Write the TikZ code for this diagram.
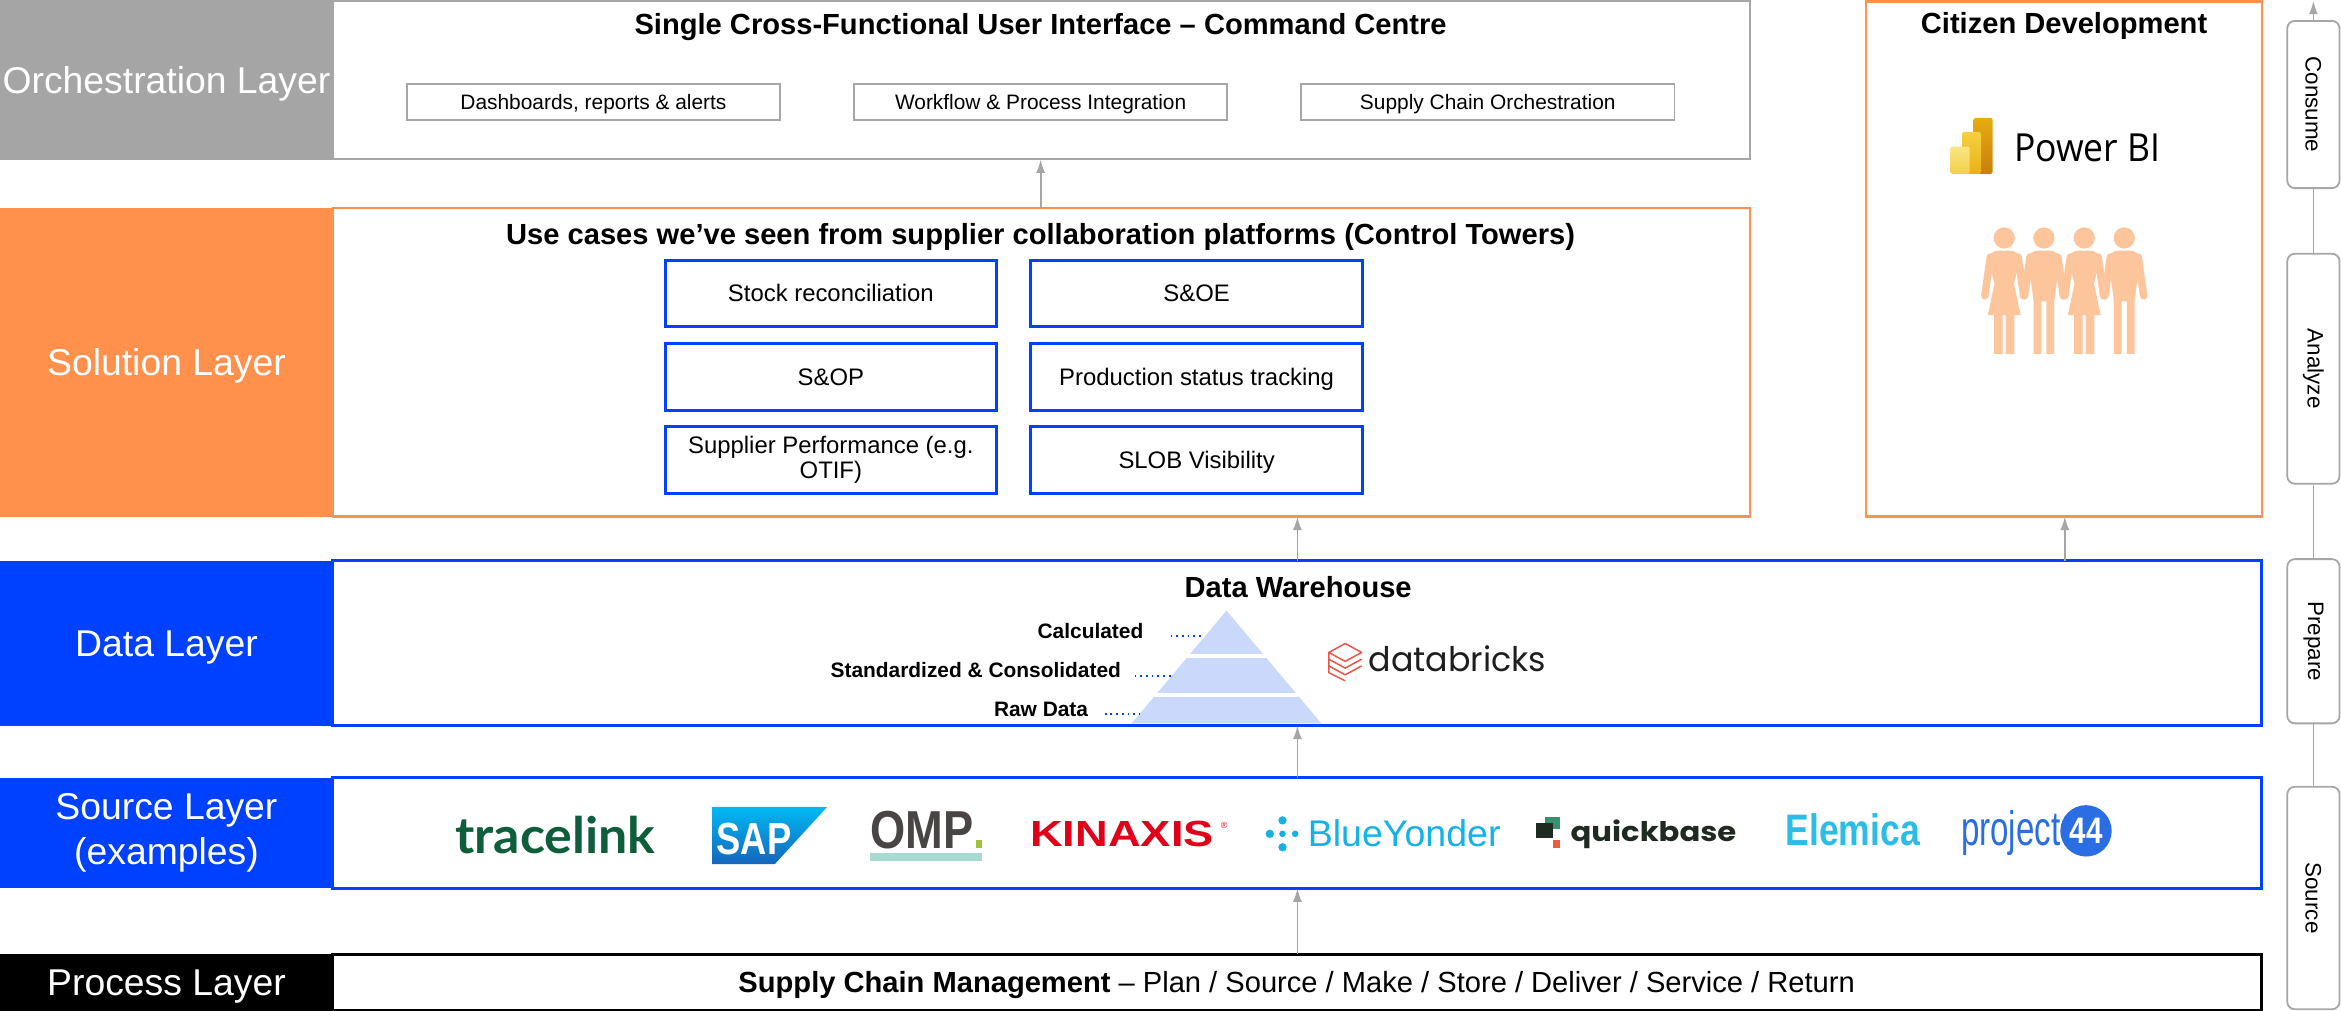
\documentclass[tikz,border=0pt]{standalone}
\usepackage{fontspec}
\usepackage{graphicx}
\setmainfont{Liberation Sans}
\newfontfamily\latofont{Lato}
\newfontfamily\poppinsfont{Poppins}
\newfontfamily\opensansfont{Open Sans}
\usetikzlibrary{arrows.meta,calc}

\newcommand\fsz[2]{\fontsize{#1}{#2}\selectfont}

% layer colours
\definecolor{orchgrey}{HTML}{A5A5A5}
\definecolor{solorange}{HTML}{FF914D}
\definecolor{datablue}{HTML}{0040FF}
\definecolor{edgegrey}{HTML}{A6A6A6}
\definecolor{pyrblue}{HTML}{C9D8FB}
\definecolor{peach}{HTML}{FCC59C}
% product marks
\definecolor{pbiRa}{HTML}{E6AD10}\definecolor{pbiRb}{HTML}{C87E0E}
\definecolor{pbiMa}{HTML}{F6D03F}\definecolor{pbiMb}{HTML}{E8B119}
\definecolor{pbiLa}{HTML}{F9E583}\definecolor{pbiLb}{HTML}{F3D04A}
\definecolor{dbred}{HTML}{E8574A}
\definecolor{dbtext}{HTML}{1E1E1E}
\definecolor{tracegreen}{HTML}{0E5E3B}
\definecolor{sapA}{HTML}{00B9F2}
\definecolor{sapB}{HTML}{1565BE}
\definecolor{ompgrey}{HTML}{4A4545}
\definecolor{ompgreen}{HTML}{A3C23B}
\definecolor{ompteal}{HTML}{A9D9D3}
\definecolor{kinred}{HTML}{E1001A}
\definecolor{byblue}{HTML}{15B1E9}
\definecolor{qbdark}{HTML}{1F2B21}
\definecolor{qbgreen}{HTML}{3A8F6F}
\definecolor{qborange}{HTML}{E8603A}
\definecolor{elemicablue}{HTML}{2CBDE6}
\definecolor{pblue}{HTML}{2B6DE3}

\tikzset{
  female/.pic={
    \fill[peach] (0,159.4) circle (7.1);
    \draw[peach, line width=5pt, line cap=round] (-9.3,172.1) -- (-13,198.2) (9.3,172.1) -- (13,198.2);
    \fill[peach] (-10.5,174.8) .. controls (-10.5,169.5) and (-7,167.9) .. (-3.5,167.9) -- (3.5,167.9)
      .. controls (7,167.9) and (10.5,169.5) .. (10.5,174.8) -- (6.5,189.8) -- (11,211.1)
      -- (-11,211.1) -- (-6.5,189.8) -- cycle;
    \fill[peach] (-6.8,210.4) rectangle (-1,237) (1,210.4) rectangle (6.8,237);
  },
  male/.pic={
    \fill[peach] (0,159.4) circle (7.1);
    \draw[peach, line width=5pt, line cap=round] (-9.3,172.1) -- (-13,198.2) (9.3,172.1) -- (13,198.2);
    \fill[peach] (-10.5,174.8) .. controls (-10.5,169.5) and (-7,167.9) .. (-3.5,167.9) -- (3.5,167.9)
      .. controls (7,167.9) and (10.5,169.5) .. (10.5,174.8) -- (6.9,201.8) -- (-6.9,201.8) -- cycle;
    \fill[peach] (-6.9,200.7) rectangle (-1.7,237) (1.7,200.7) rectangle (6.9,237);
  }
}

\begin{document}
\begin{tikzpicture}[x=1pt,y=-1pt,
  lbl/.style={anchor=north west, inner sep=0pt, outer sep=0pt, minimum width=223pt,
    text=white, font=\fsz{25}{30}, align=center},
  capmid/.style={text height=#1, text depth=0pt},
  pane/.style={anchor=north west, inner sep=0pt, outer sep=0pt, fill=white},
  title/.style={anchor=base, inner sep=0pt, font=\bfseries\fsz{19.5}{23}},
  uibox/.style={draw=edgegrey, line width=1.2pt, minimum width=250pt, minimum height=24pt,
    inner sep=0pt, font=\fsz{14}{17}, capmid=10pt},
  casebox/.style={draw=datablue, line width=2pt, minimum width=222pt, minimum height=44.5pt,
    inner sep=0pt, font=\fsz{16}{17}, align=center},
  tier/.style={anchor=base east, inner sep=0pt, font=\bfseries\fsz{14}{17}},
  tierdots/.style={datablue, line width=1.2pt, dash pattern=on 1.2pt off 2.6pt},
  flow/.style={draw=edgegrey, line width=1.2pt, -{Latex[length=9pt,width=6pt]}},
  pipe/.style={draw=edgegrey, line width=1.2pt},
  stage/.style={draw=edgegrey, line width=1.2pt, rounded corners=5pt, fill=white,
    minimum width=35pt, inner sep=0pt, font=\fsz{15}{18}},
  logo/.style={anchor=base west, inner sep=0pt, outer sep=0pt}
]
\useasboundingbox (0,0) rectangle (1568,677);

% ---------- orchestration layer ----------
\node[pane, draw=edgegrey, line width=1.5pt, minimum width=949pt, minimum height=106pt] (orch) at (223,0.75) {};
\node[lbl, fill=orchgrey, minimum height=107pt, capmid=18pt] (orchL) at (0,0) {Orchestration Layer};
\node[title] (orchT) at (697,23) {Single Cross-Functional User Interface – Command Centre};
\node[uibox] (ui1) at (397.5,68.5) {Dashboards, reports \& alerts};
\node[uibox] (ui2) at (697,68.5) {Workflow \& Process Integration};
\node[uibox] (ui3) at (996.5,68.5) {Supply Chain Orchestration};

% ---------- solution layer ----------
\node[pane, draw=solorange, line width=1.5pt, minimum width=949pt, minimum height=206.5pt] (sol) at (223,139.5) {};
\node[lbl, fill=solorange, minimum height=206.5pt, capmid=18pt] (solL) at (0,139.5) {Solution Layer};
\node[title] (solT) at (697,164) {Use cases we’ve seen from supplier collaboration platforms (Control Towers)};
\node[casebox, capmid=11.5pt] (uc1) at (556.5,196.5) {Stock reconciliation};
\node[casebox, capmid=11.5pt] (uc2) at (801.5,196.5) {S\&OE};
\node[casebox, capmid=11.5pt] (uc3) at (556.5,252.5) {S\&OP};
\node[casebox, capmid=11.5pt] (uc4) at (801.5,252.5) {Production status tracking};
\node[casebox] (uc5) at (556.5,308) {Supplier Performance (e.g.\\OTIF)};
\node[casebox, capmid=11.5pt] (uc6) at (801.5,308) {SLOB Visibility};

% ---------- citizen development ----------
\node[pane, draw=solorange, line width=1.5pt, minimum width=265pt, minimum height=345pt] (cit) at (1250,1) {};
\node[title] (citT) at (1382.5,22.5) {Citizen Development};
\shade[rounded corners=1.5pt, top color=pbiRa, bottom color=pbiRb] (1321.8,79) rectangle (1334.7,116.5);
\shade[rounded corners=1.5pt, top color=pbiMa, bottom color=pbiMb] (1314.2,88.4) rectangle (1326.9,116.5);
\shade[rounded corners=1.5pt, top color=pbiLa, bottom color=pbiLb] (1306.3,98.2) rectangle (1319.3,116.5);
\node[logo] (pbi) at (1349,108) {\resizebox{98pt}{18.5pt}{\opensansfont Power BI}};
\pic at (1342.4,0) {female};
\pic at (1369,0) {male};
\pic at (1396,0) {female};
\pic at (1422.8,0) {male};

% ---------- data layer ----------
\node[pane, draw=datablue, line width=2pt, minimum width=1292pt, minimum height=110.3pt] (dw) at (223,375.7) {};
\node[lbl, fill=datablue, minimum height=110.3pt, capmid=18pt] (dwL) at (0,375.7) {Data Layer};
\node[title] (dwT) at (869.5,400.5) {Data Warehouse};
\fill[pyrblue] (821.5,409) -- (885,484.5) -- (758,484.5) -- cycle;
\draw[white, line width=2.5pt] (790,439.5) -- (853,439.5) (770,465.5) -- (873,465.5);
\coordinate (pyr1) at (805,426);
\coordinate (pyr2) at (784,452.6);
\coordinate (pyr3) at (763,478);
\node[tier] (t1) at (766,427.4) {Calculated};
\node[tier] (t2) at (751,454) {Standardized \& Consolidated};
\node[tier] (t3) at (729,480) {Raw Data};
\draw[tierdots] ([xshift=18pt,yshift=1.4pt]t1.base east) -- (pyr1);
\draw[tierdots] ([xshift=9pt,yshift=1.4pt]t2.base east) -- (pyr2);
\draw[tierdots] ([xshift=11pt,yshift=2pt]t3.base east) -- (pyr3);
% databricks mark
\begin{scope}[dbred, line width=1pt, line join=round]
  \draw (890,437) -- (901,431) -- (912,437) -- (901,443) -- cycle;
  \draw (890,441.5) -- (901,447.5) -- (912,441.5);
  \draw (890,446) -- (901,452) -- (912,446);
  \draw (890,437) -- (890,450.5) -- (901,456);
\end{scope}
\node[logo, text=dbtext] (dbx) at (916.6,450) {\resizebox{119pt}{17.3pt}{\poppinsfont databricks}};

% ---------- source layer ----------
\node[pane, draw=datablue, line width=2pt, minimum width=1292pt, minimum height=74pt] (src) at (223,521) {};
\node[lbl, fill=datablue, minimum height=74pt] (srcL) at (0,521) {Source Layer\\(examples)};
\node[logo, text=tracegreen] (tracelink) at (305,571.5) {\resizebox{134pt}{25pt}{\latofont\bfseries tracelink}};
\shade[top color=sapA, bottom color=sapB] (477,540.5) -- (554,540.5) -- (519,578.7) -- (477,578.7) -- cycle;
\node[logo, text=white] (sap) at (480,572.5) {\resizebox{50pt}{21pt}{\bfseries SAP}};
\node[logo, text=ompgrey] (omp) at (583,568) {\resizebox{69pt}{25pt}{\bfseries OMP}};
\fill[ompgreen] (653.5,562.5) rectangle (658,568);
\fill[ompteal] (583,571.5) rectangle (658,576.5);
\node[logo, text=kinred] (kinaxis) at (690,567) {\resizebox{123pt}{17pt}{\bfseries KINAXIS}};
\node[text=kinred, inner sep=0pt, font=\fsz{6}{7}] (kinr) at (820,553) {®};
\begin{scope}[byblue]
  \fill (859,549.5) circle (2.8);
  \fill (859,567.5) circle (2.8);
  \fill (850.5,558.5) circle (2.8);
  \fill (867.5,558.5) circle (2.2);
  \fill (859,558.5) circle (2.2);
\end{scope}
\node[logo, text=byblue] (blueyonder) at (876,567) {\resizebox{129pt}{18pt}{BlueYonder}};
\fill[qbgreen] (1034.6,547) rectangle (1045,555);
\fill[qbdark] (1029,551.5) rectangle (1040,561.5);
\fill[qborange] (1040,562.5) rectangle (1045,568);
\node[logo, text=qbdark] (quickbase) at (1052,563.7) {\resizebox{111pt}{14.5pt}{\poppinsfont\bfseries quickbase}};
\node[logo, text=elemicablue] (elemica) at (1196,566) {\resizebox{90pt}{21.4pt}{\bfseries Elemica}};
\node[logo, text=pblue] (project) at (1313.5,566) {\resizebox{66.5pt}{23.5pt}{project}};
\fill[pblue] (1397.2,556.5) circle (17.2);
\node[text=white, inner sep=0pt] (p44) at (1397.2,556.5) {\resizebox{22pt}{17pt}{\bfseries 44}};

% ---------- process layer ----------
\node[pane, draw=black, line width=2pt, minimum width=1292pt, minimum height=37.5pt] (proc) at (223,639) {};
\node[lbl, fill=black, minimum height=38pt, capmid=18pt] (procL) at (0,639) {Process Layer};
\node[anchor=base, inner sep=0pt, font=\fsz{19.5}{23}] (procT) at (868.5,664.5)
  {\textbf{Supply Chain Management} – Plan / Source / Make / Store / Deliver / Service / Return};

% ---------- flows between layers ----------
\coordinate (spine) at (869,0);
\coordinate (citx) at (1383,0);
\coordinate (uix) at (697,0);
\draw[flow] (spine |- proc.north) -- (spine |- src.south);
\draw[flow] (spine |- src.north) -- (spine |- dw.south);
\draw[flow] (spine |- dw.north) -- (spine |- sol.south);
\draw[flow] (citx |- dw.north) -- (citx |- cit.south);
\draw[flow] (uix |- sol.north) -- (uix |- orch.south);

% ---------- stages ----------
\node[stage, minimum height=112pt] (consume) at (1549.5,70) {\rotatebox{-90}{Consume}};
\node[stage, minimum height=154pt] (analyze) at (1549.5,247) {\rotatebox{-90}{Analyze}};
\node[stage, minimum height=110pt] (prepare) at (1549.5,429.5) {\rotatebox{-90}{Prepare}};
\node[stage, minimum height=149pt] (sourcest) at (1549.5,601.5) {\rotatebox{-90}{Source}};
\coordinate (stagetop) at (1549.5,0.5);
\draw[pipe] (sourcest.north) -- (prepare.south);
\draw[pipe] (prepare.north) -- (analyze.south);
\draw[pipe] (analyze.north) -- (consume.south);
\draw[flow] (consume.north) -- (stagetop);
\end{tikzpicture}
\end{document}
